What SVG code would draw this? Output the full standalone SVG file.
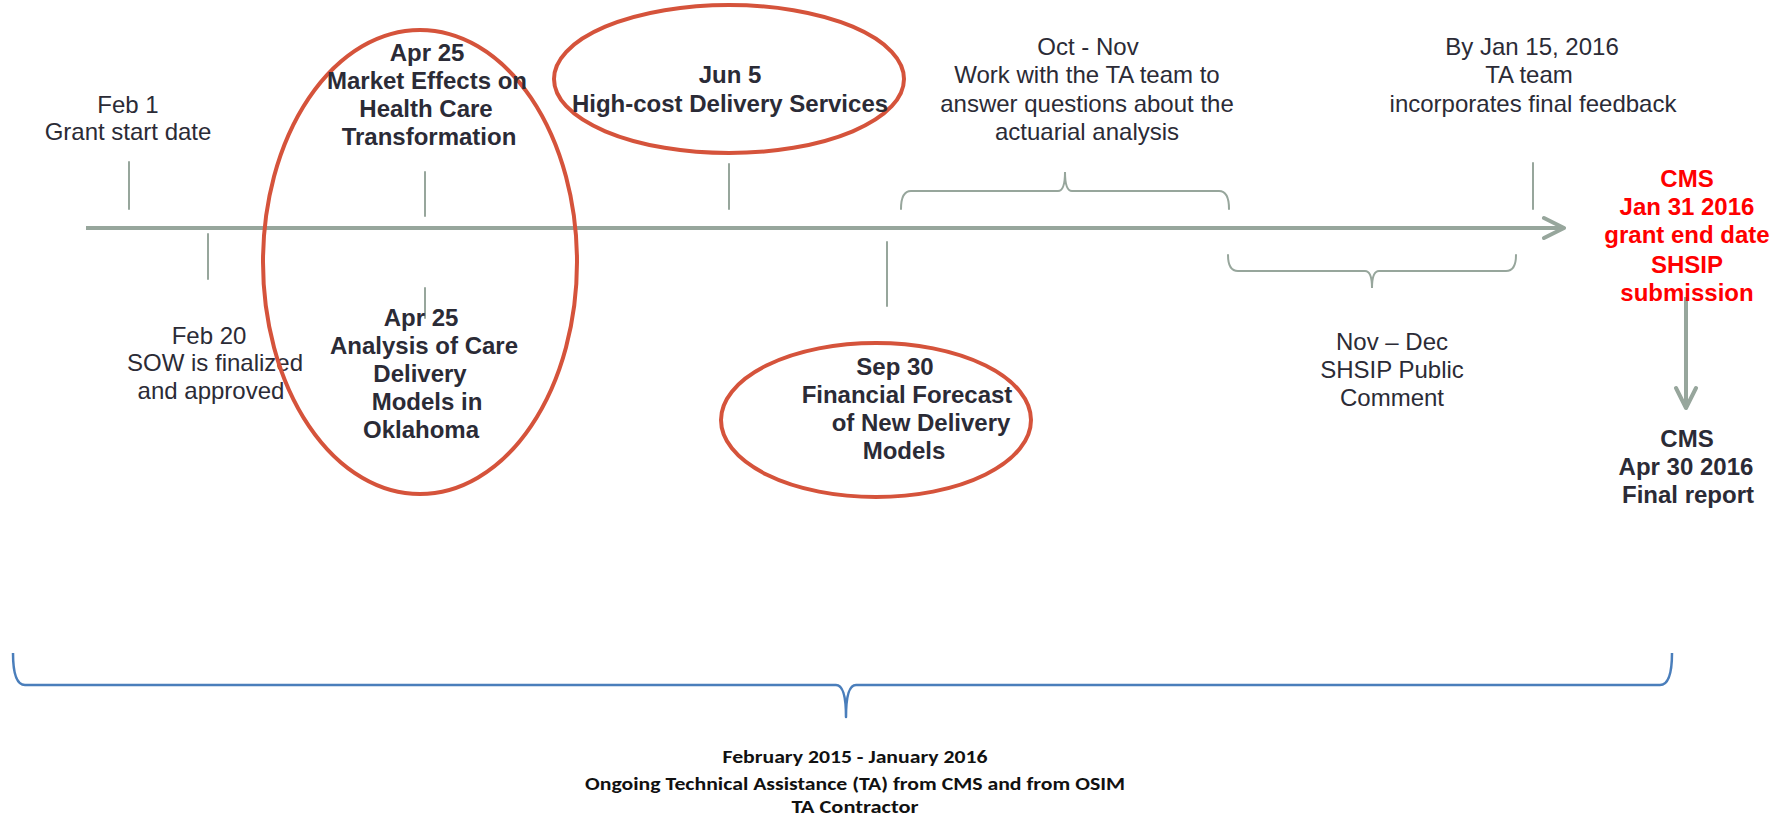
<svg xmlns="http://www.w3.org/2000/svg" width="1772" height="818" viewBox="0 0 1772 818">
<defs>
<style>
.t{font-family:"Liberation Sans",Arial,sans-serif;font-size:24px;fill:#2b2b36;text-anchor:middle}
.b{font-weight:bold}
.red{fill:#ff0000}
.ell{fill:none;stroke:#d5533b;stroke-width:4}
.ln{fill:none;stroke:#97a69c;stroke-width:2;stroke-linecap:round}
.ax{fill:none;stroke:#97a69c;stroke-width:4}
.br{fill:none;stroke:#4a7ebb;stroke-width:2.5;stroke-linejoin:round}
.bt{font-family:Carlito,Lato,"Liberation Sans",sans-serif;font-size:19px;font-weight:bold;fill:#111;text-anchor:middle}
</style>
<marker id="chev" viewBox="-24 -13 26 26" refX="0" refY="0" markerWidth="26" markerHeight="26" markerUnits="userSpaceOnUse" orient="auto">
<path d="M-20,-10 L0,0 L-20,10" fill="none" stroke="#97a69c" stroke-width="4" stroke-linecap="round" stroke-linejoin="round"/>
</marker>
</defs>
<rect width="1772" height="818" fill="#ffffff"/>

<g id="connectors">
<line class="ax" x1="86" y1="228" x2="1564" y2="228" marker-end="url(#chev)"/>
<line class="ax" x1="1686" y1="297" x2="1686" y2="408" marker-end="url(#chev)"/>
<line class="ln" x1="129" y1="162" x2="129" y2="209"/>
<line class="ln" x1="208" y1="234" x2="208" y2="279"/>
<line class="ln" x1="425" y1="172" x2="425" y2="216"/>
<line class="ln" x1="425" y1="288" x2="425" y2="318"/>
<line class="ln" x1="729" y1="164" x2="729" y2="209"/>
<line class="ln" x1="887" y1="242" x2="887" y2="306"/>
<line class="ln" x1="1533" y1="163" x2="1533" y2="209"/>
<path class="ln" d="M901,209 Q901,191 911,191 L1058,191 Q1065,191 1065,172 Q1065,191 1072,191 L1219,191 Q1229,191 1229,209"/>
<path class="ln" d="M1228,255 Q1228,271 1238,271 L1365,271 Q1372,271 1372,288 Q1372,271 1379,271 L1506,271 Q1516,271 1516,255"/>
<path class="br" d="M13,653 Q13,685 25,685 L836,685 Q846,685 846,717 Q846,685 856,685 L1660,685 Q1672,685 1672,653"/>
</g>

<g id="feb1">
<text class="t" x="128" y="113">Feb 1</text>
<text class="t" x="128" y="140">Grant start date</text>
</g>

<g id="feb20">
<text class="t" x="209" y="344">Feb 20</text>
<text class="t" x="215" y="371">SOW is finalized</text>
<text class="t" x="211" y="399">and approved</text>
</g>

<g id="apr25-market">
<ellipse class="ell" cx="420" cy="262" rx="157" ry="232"/>
<text class="t b" x="427" y="61">Apr 25</text>
<text class="t b" x="427" y="89">Market Effects on</text>
<text class="t b" x="426" y="117">Health Care</text>
<text class="t b" x="429" y="145">Transformation</text>
</g>

<g id="apr25-analysis">
<text class="t b" x="421" y="326">Apr 25</text>
<text class="t b" x="424" y="354">Analysis of Care</text>
<text class="t b" x="420" y="382">Delivery</text>
<text class="t b" x="427" y="410">Models in</text>
<text class="t b" x="421" y="438">Oklahoma</text>
</g>

<g id="jun5">
<ellipse class="ell" cx="729" cy="79" rx="175" ry="74"/>
<text class="t b" x="730" y="83">Jun 5</text>
<text class="t b" x="730" y="112">High-cost Delivery Services</text>
</g>

<g id="sep30">
<ellipse class="ell" cx="876" cy="420" rx="155" ry="77"/>
<text class="t b" x="895" y="375">Sep 30</text>
<text class="t b" x="907" y="403">Financial Forecast</text>
<text class="t b" x="921" y="431">of New Delivery</text>
<text class="t b" x="904" y="459">Models</text>
</g>

<g id="octnov">
<text class="t" x="1088" y="55">Oct - Nov</text>
<text class="t" x="1087" y="83">Work with the TA team to</text>
<text class="t" x="1087" y="112">answer questions about the</text>
<text class="t" x="1087" y="140">actuarial analysis</text>
</g>

<g id="novdec">
<text class="t" x="1392" y="350">Nov – Dec</text>
<text class="t" x="1392" y="378">SHSIP Public</text>
<text class="t" x="1392" y="406">Comment</text>
</g>

<g id="jan15">
<text class="t" x="1532" y="55">By Jan 15, 2016</text>
<text class="t" x="1529" y="83">TA team</text>
<text class="t" x="1533" y="112">incorporates final feedback</text>
</g>

<g id="jan31">
<text class="t b red" x="1687" y="187">CMS</text>
<text class="t b red" x="1687" y="215">Jan 31 2016</text>
<text class="t b red" x="1687" y="243">grant end date</text>
<text class="t b red" x="1687" y="273">SHSIP</text>
<text class="t b red" x="1687" y="301">submission</text>
</g>

<g id="apr30">
<text class="t b" x="1687" y="447">CMS</text>
<text class="t b" x="1686" y="475">Apr 30 2016</text>
<text class="t b" x="1688" y="503">Final report</text>
</g>

<g id="ongoing-ta">
<text class="bt" x="855" y="763" textLength="265" lengthAdjust="spacingAndGlyphs">February 2015 - January 2016</text>
<text class="bt" x="855" y="790" textLength="540" lengthAdjust="spacingAndGlyphs">Ongoing Technical Assistance (TA) from CMS and from OSIM</text>
<text class="bt" x="855" y="813" textLength="127" lengthAdjust="spacingAndGlyphs">TA Contractor</text>
</g>
</svg>
